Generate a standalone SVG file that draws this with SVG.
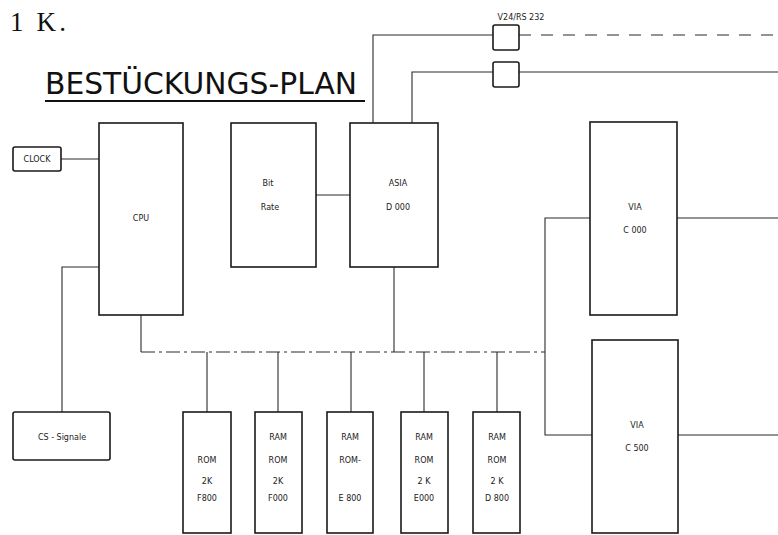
<svg xmlns="http://www.w3.org/2000/svg" width="778" height="535" viewBox="0 0 778 535">
<style>
.box{fill:none;stroke:#1a1a1a;stroke-width:1.6}
.ln{fill:none;stroke:#2a2a2a;stroke-width:1.1}
.lbl{font-family:"DejaVu Sans",sans-serif;font-size:8px;fill:#1a1a1a;text-anchor:middle}
.big{font-family:"DejaVu Sans",sans-serif;fill:#111}
</style>
<rect width="778" height="535" fill="#ffffff"/>
<text x="10" y="31" font-family="Liberation Serif, serif" font-size="27" fill="#111" textLength="56">1 K.</text>
<text class="big" x="45" y="94" font-size="31" textLength="312" lengthAdjust="spacingAndGlyphs">BESTÜCKUNGS-PLAN</text>
<line x1="45" y1="101" x2="365" y2="101" stroke="#111" stroke-width="2"/>
<text class="lbl" x="521" y="20" font-size="7">V24/RS 232</text>
<g id="connectors">
<polyline class="ln" points="373,123 373,35 493,35"/>
<line class="ln" x1="519" y1="35" x2="778" y2="35" stroke-dasharray="12,10"/>
<polyline class="ln" points="412,123 412,72 493,72"/>
<line class="ln" x1="519" y1="72" x2="778" y2="72" stroke-width="1.5"/>
<line class="ln" x1="61" y1="159" x2="99" y2="159"/>
<line class="ln" x1="316" y1="195" x2="350" y2="195"/>
<polyline class="ln" points="99,267 62,267 62,412"/>
<line class="ln" x1="141" y1="315" x2="141" y2="352"/>
<line class="ln" x1="394" y1="267" x2="394" y2="352"/>
<polyline class="ln" points="141,352 545,352" stroke-dasharray="14,4,3,4"/>
<line class="ln" x1="207" y1="352" x2="207" y2="412"/>
<line class="ln" x1="278" y1="352" x2="278" y2="412"/>
<line class="ln" x1="351" y1="352" x2="351" y2="412"/>
<line class="ln" x1="424" y1="352" x2="424" y2="412"/>
<line class="ln" x1="497" y1="352" x2="497" y2="412" stroke-width="1.5"/>
<polyline class="ln" points="590,218 545,218 545,435 592,435"/>
<line class="ln" x1="677" y1="218" x2="778" y2="218"/>
<line class="ln" x1="678" y1="435" x2="778" y2="435"/>
</g>
<g id="v24-1"><rect class="box" x="493" y="25" width="26" height="25" rx="2"/></g>
<g id="v24-2"><rect class="box" x="493" y="62" width="26" height="25" rx="2"/></g>
<g id="clock"><rect class="box" x="13" y="147" width="48" height="24" rx="2"/><text class="lbl" x="37" y="162" font-size="6.5">CLOCK</text></g>
<g id="cpu"><rect class="box" x="99" y="123" width="84" height="192"/><text class="lbl" x="141" y="221">CPU</text></g>
<g id="bitrate"><rect class="box" x="231" y="123" width="85" height="144"/><text class="lbl" x="268" y="186">Bit</text><text class="lbl" x="270" y="210">Rate</text></g>
<g id="asia"><rect class="box" x="350" y="123" width="88" height="144"/><text class="lbl" x="398" y="186">ASIA</text><text class="lbl" x="398" y="210">D 000</text></g>
<g id="via-c000"><rect class="box" x="590" y="122" width="87" height="193"/><text class="lbl" x="635" y="210">VIA</text><text class="lbl" x="635" y="233">C 000</text></g>
<g id="via-c500"><rect class="box" x="592" y="340" width="86" height="193"/><text class="lbl" x="637" y="428">VIA</text><text class="lbl" x="637" y="451">C 500</text></g>
<g id="cs"><rect class="box" x="13" y="412" width="97" height="48" rx="2"/><text class="lbl" x="62" y="440">CS - Signale</text></g>
<g id="rom-f800"><rect class="box" x="183" y="412" width="48" height="121"/><text class="lbl" x="207" y="463">ROM</text><text class="lbl" x="207" y="484">2K</text><text class="lbl" x="207" y="501">F800</text></g>
<g id="ram-f000"><rect class="box" x="255" y="412" width="47" height="121"/><text class="lbl" x="278" y="440">RAM</text><text class="lbl" x="278" y="463">ROM</text><text class="lbl" x="278" y="484">2K</text><text class="lbl" x="278" y="501">F000</text></g>
<g id="ram-e800"><rect class="box" x="327" y="412" width="46" height="121"/><text class="lbl" x="350" y="440">RAM</text><text class="lbl" x="350" y="463">ROM-</text><text class="lbl" x="350" y="501">E 800</text></g>
<g id="ram-e000"><rect class="box" x="401" y="412" width="47" height="121"/><text class="lbl" x="424" y="440">RAM</text><text class="lbl" x="424" y="463">ROM</text><text class="lbl" x="424" y="484">2 K</text><text class="lbl" x="424" y="501">E000</text></g>
<g id="ram-d800"><rect class="box" x="473" y="412" width="47" height="121"/><text class="lbl" x="497" y="440">RAM</text><text class="lbl" x="497" y="463">ROM</text><text class="lbl" x="497" y="484">2 K</text><text class="lbl" x="497" y="501">D 800</text></g>
</svg>
